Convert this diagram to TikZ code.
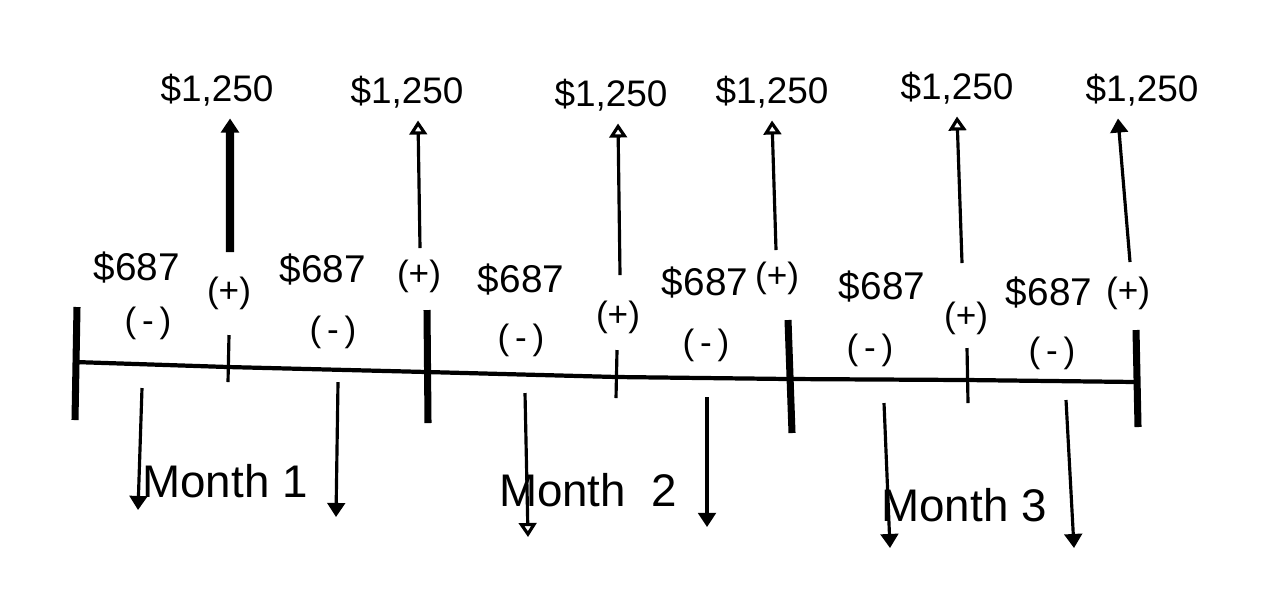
\documentclass[tikz,border=0pt]{standalone}
\usepackage{fontspec}
\setmainfont{Liberation Sans}
\usetikzlibrary{arrows.meta}
\begin{document}
\begin{tikzpicture}[x=0.01cm,y=-0.01cm,
  amount/.style={font=\fontsize{10.5}{12}\selectfont},
  cost/.style={font=\fontsize{11}{13}\selectfont},
  sign/.style={font=\fontsize{10}{12}\selectfont},
  month/.style={font=\fontsize{13}{15}\selectfont},
  bigtick/.style={line width=2pt},
  smalltick/.style={line width=0.9pt},
  inflow/.style={line width=0.9pt,-{Triangle[open,length=4pt,width=5pt]}},
  inflowfull/.style={line width=0.9pt,-{Triangle[length=4pt,width=5pt]}},
  outflow/.style={line width=0.9pt,-{Triangle[length=4pt,width=5pt]}},
  outflowopen/.style={line width=0.9pt,-{Triangle[open,length=4pt,width=5pt]}}]
\useasboundingbox (0,0) rectangle (1286,614);

% timeline
\coordinate (t0) at (75,362);
\coordinate (t1) at (228,367);
\coordinate (t2) at (427,372);
\coordinate (t3) at (617,377);
\coordinate (t4) at (790,379);
\coordinate (t5) at (967,380);
\coordinate (t6) at (1137,382);
\draw[line width=1.2pt] (t0) -- (t1) -- (t2) -- (t3) -- (t4) -- (t5) -- (t6);

\coordinate (k0a) at (77,307);  \coordinate (k0b) at (75,420);
\coordinate (k2a) at (427,310); \coordinate (k2b) at (428,423);
\coordinate (k4a) at (788,320); \coordinate (k4b) at (792,433);
\coordinate (k6a) at (1136,330); \coordinate (k6b) at (1138,427);
\coordinate (k1a) at (229,335); \coordinate (k1b) at (228,382);
\coordinate (k3a) at (617,350); \coordinate (k3b) at (616,398);
\coordinate (k5a) at (967,348); \coordinate (k5b) at (968,403);
\draw[bigtick] (k0a) -- (k0b);
\draw[bigtick] (k2a) -- (k2b);
\draw[bigtick] (k4a) -- (k4b);
\draw[bigtick] (k6a) -- (k6b);
\draw[smalltick] (k1a) -- (k1b);
\draw[smalltick] (k3a) -- (k3b);
\draw[smalltick] (k5a) -- (k5b);

% receipts
\node[amount] (r1) at (217,90) {\$1,250};
\node[amount] (r2) at (407,92) {\$1,250};
\node[amount] (r3) at (611,95) {\$1,250};
\node[amount] (r4) at (772,92) {\$1,250};
\node[amount] (r5) at (957,88) {\$1,250};
\node[amount] (r6) at (1142,90) {\$1,250};
\node[sign] (p1) at (229,293) {(+)};
\node[sign] (p2) at (419,276) {(+)};
\node[sign] (p3) at (618,317) {(+)};
\node[sign] (p4) at (777,278) {(+)};
\node[sign] (p5) at (966,318) {(+)};
\node[sign] (p6) at (1128,293) {(+)};
\coordinate (u1) at (230,252);
\coordinate (u2) at (420,248);
\coordinate (u3) at (620,275);
\coordinate (u4) at (776,250);
\coordinate (u5) at (962,263);
\coordinate (u6) at (1130,262);
\draw[inflowfull,line width=2.4pt] (u1) -- ([xshift=0.13cm]r1.south);
\draw[inflow] (u2) -- ([xshift=0.11cm]r2.south);
\draw[inflow] (u3) -- ([xshift=0.07cm]r3.south);
\draw[inflow] (u4) -- (r4.south);
\draw[inflow] (u5) -- (r5.south);
\draw[inflowfull] (u6) -- ([xshift=-0.24cm]r6.south);

% payments
\node[cost] (c1) at (137,268) {\$687};
\node[cost] (c2) at (323,270) {\$687};
\node[cost] (c3) at (521,280) {\$687};
\node[cost] (c4) at (705,283) {\$687};
\node[cost] (c5) at (882,287) {\$687};
\node[cost] (c6) at (1049,293) {\$687};
\node[sign] (m1) at (148,323) {(\,-\,)};
\node[sign] (m2) at (333,332) {(\,-\,)};
\node[sign] (m3) at (521,340) {(\,-\,)};
\node[sign] (m4) at (706,345) {(\,-\,)};
\node[sign] (m5) at (870,350) {(\,-\,)};
\node[sign] (m6) at (1052,353) {(\,-\,)};
\coordinate (d1) at (142,388); \coordinate (e1) at (138,510);
\coordinate (d2) at (338,382); \coordinate (e2) at (336,517);
\coordinate (d3) at (525,393); \coordinate (e3) at (528,537);
\coordinate (d4) at (707,397); \coordinate (e4) at (707,527);
\coordinate (d5) at (884,403); \coordinate (e5) at (890,548);
\coordinate (d6) at (1066,400); \coordinate (e6) at (1074,548);
\draw[outflow] (d1) -- (e1);
\draw[outflow] (d2) -- (e2);
\draw[outflowopen] (d3) -- (e3);
\draw[outflow] (d4) -- (e4);
\draw[outflow] (d5) -- (e5);
\draw[outflow] (d6) -- (e6);

\node[month] (month1) at (225,481) {Month 1};
\node[month] (month2) at (588,490) {Month \ 2};
\node[month] (month3) at (964,505) {Month 3};
\end{tikzpicture}
\end{document}
